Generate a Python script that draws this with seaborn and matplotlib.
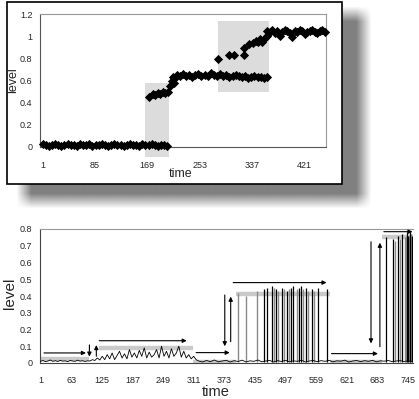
import numpy as np
import pandas as pd
import seaborn as sns
import matplotlib.pyplot as plt
from matplotlib.patches import Rectangle
from matplotlib.ticker import FuncFormatter

sns.set_style("white")
plt.rcParams['font.family'] = ['Liberation Sans Narrow', 'Liberation Sans', 'DejaVu Sans']

# ---- top panel: level readings ----
low_t = np.arange(1, 205, 5)
low_level = [0.03, 0.02, 0.01, 0.02, 0.03, 0.02, 0.01, 0.02, 0.03, 0.02, 0.02,
             0.01, 0.03, 0.02, 0.02, 0.03, 0.01, 0.02, 0.02, 0.03, 0.02, 0.01,
             0.02, 0.03, 0.02, 0.02, 0.01, 0.02, 0.03, 0.02, 0.02, 0.01, 0.03,
             0.02, 0.02, 0.03, 0.02, 0.01, 0.02, 0.02, 0.01]
step_t = [172, 178, 182, 186, 190, 194, 198, 202, 206, 208, 210, 212, 214]
step_level = [0.45, 0.48, 0.47, 0.49, 0.48, 0.50, 0.49, 0.50, 0.55, 0.60, 0.63, 0.58, 0.62]
mid_t = np.arange(216, 362, 5)
mid_level = [0.65, 0.64, 0.66, 0.64, 0.65, 0.63, 0.65, 0.66, 0.64, 0.65, 0.64,
             0.67, 0.65, 0.64, 0.66, 0.64, 0.65, 0.63, 0.64, 0.65, 0.64, 0.63,
             0.64, 0.62, 0.63, 0.64, 0.63, 0.63, 0.62, 0.63]
rise_t = [283, 300, 309, 325, 325, 333, 338, 343, 346, 350, 354, 358, 361]
rise_level = [0.79, 0.83, 0.83, 0.83, 0.89, 0.93, 0.94, 0.96, 0.95, 0.97, 0.95, 0.98, 1.00]
high_t = np.arange(362, 456, 4)
high_level = [1.05, 1.04, 1.06, 1.03, 1.05, 1.00, 1.04, 1.06, 1.05, 1.03, 0.99, 1.05,
              1.04, 1.06, 1.05, 1.02, 1.04, 1.05, 1.06, 1.04, 1.03, 1.05, 1.06, 1.04]

# shaded windows (time from, time to, level from, level to)
win_t0 = [166, 282]
win_t1 = [204, 364]
win_y0 = [-0.09, 0.50]
win_y1 = [0.58, 1.14]

top = pd.DataFrame({
    'time': np.concatenate([low_t, step_t, mid_t, rise_t, high_t]),
    'level': np.concatenate([low_level, step_level, mid_level, rise_level, high_level]),
})

# ---- bottom panel ----
a_t = np.arange(1, 100, 5)
a_level = [0.010, 0.015, 0.008, 0.012, 0.018, 0.010, 0.014, 0.009, 0.016, 0.011,
           0.013, 0.008, 0.015, 0.012, 0.010, 0.017, 0.011, 0.014, 0.009, 0.013]
b_t = np.arange(101, 320, 5)
b_level = [0.012, 0.020, 0.015, 0.030, 0.018, 0.040, 0.020, 0.050, 0.025, 0.060,
           0.020, 0.045, 0.070, 0.030, 0.055, 0.025, 0.080, 0.035, 0.060, 0.030,
           0.075, 0.040, 0.090, 0.030, 0.065, 0.035, 0.050, 0.080, 0.030, 0.100,
           0.040, 0.070, 0.030, 0.085, 0.040, 0.060, 0.100, 0.035, 0.070, 0.030,
           0.050, 0.025, 0.040, 0.020]
c_t = np.arange(321, 760, 8)
c_level = [0.012, 0.006, 0.015, 0.008, 0.018, 0.007, 0.012, 0.016, 0.006, 0.014,
           0.009, 0.017, 0.006, 0.013, 0.010, 0.018, 0.007, 0.012, 0.015, 0.006,
           0.014, 0.009, 0.016, 0.007, 0.013, 0.010, 0.017, 0.006, 0.012, 0.015,
           0.008, 0.014, 0.010, 0.016, 0.007, 0.013, 0.011, 0.017, 0.006, 0.012,
           0.015, 0.008, 0.014, 0.010, 0.016, 0.007, 0.013, 0.011, 0.015, 0.008,
           0.012, 0.014, 0.009, 0.013, 0.010]

bottom = pd.DataFrame({
    'time': np.concatenate([a_t, b_t, c_t]),
    'level': np.concatenate([a_level, b_level, c_level]),
})

spike_t = [453, 459, 469, 477, 489, 499, 509, 513, 525, 529, 539, 551, 563, 580,
           700, 714, 724, 733, 742, 744, 749, 753]
spike_h = [0.44, 0.45, 0.46, 0.44, 0.45, 0.43, 0.45, 0.46, 0.45, 0.46, 0.45, 0.44, 0.45, 0.44,
           0.75, 0.74, 0.76, 0.77, 0.78, 0.76, 0.78, 0.76]
gspike_t = [400, 416, 440, 473, 481, 493, 503, 521, 533, 543, 555,
            719, 729, 738, 740, 746, 748, 751]
gspike_h = [0.42, 0.40, 0.43, 0.45, 0.43, 0.44, 0.44, 0.44, 0.44, 0.43, 0.43,
            0.73, 0.74, 0.75, 0.76, 0.76, 0.77, 0.77]

# regime levels (grey bands)
band_t0 = [1, 120, 310, 396, 588, 692]
band_t1 = [100, 310, 396, 588, 692, 755]
band_level = [0.025, 0.088, 0.008, 0.41, 0.008, 0.755]

# arrows (from time, from level, to time, to level)
arr_t0 = [8, 100, 114, 120, 316, 374, 386, 391, 590, 670, 688, 696]
arr_y0 = [0.060, 0.108, 0.040, 0.133, 0.062, 0.406, 0.127, 0.480, 0.056, 0.724, 0.097, 0.784]
arr_t1 = [93, 100, 114, 297, 384, 374, 386, 580, 684, 670, 688, 754]
arr_y1 = [0.060, 0.038, 0.107, 0.133, 0.062, 0.100, 0.396, 0.480, 0.056, 0.117, 0.718, 0.784]

fig = plt.figure(figsize=(4.19, 3.99), dpi=100)

# background: frame around top panel with a soft drop shadow
bg = fig.add_axes([0, 0, 1, 1], zorder=-1)
yy, xx = np.mgrid[0:399, 0:419]
shade = ((xx >= 24) & (xx <= 362) & (yy >= 14) & (yy <= 200)).astype(float)
k = np.ones(15) / 15
shade = np.apply_along_axis(lambda r: np.convolve(r, k, mode='same'), 1, shade)
shade = np.apply_along_axis(lambda c: np.convolve(c, k, mode='same'), 0, shade)
bg.imshow(1 - 0.5 * shade, cmap='gray', vmin=0, vmax=1, extent=(0, 419, 399, 0),
          interpolation='bilinear', aspect='auto')
bg.add_patch(Rectangle((7, 2), 335, 182, facecolor='white', edgecolor='black', lw=1.2))
bg.set_xlim(0, 419)
bg.set_ylim(399, 0)
bg.axis('off')

# top chart
ax1 = fig.add_axes([40/419, 252/399, 286/419, 133/399])
ax1.patch.set_alpha(0)
for t0, t1, y0, y1 in zip(win_t0, win_t1, win_y0, win_y1):
    ax1.add_patch(Rectangle((t0, y0), t1 - t0, y1 - y0, facecolor='#dcdcdc',
                            edgecolor='none', clip_on=False, zorder=1))
sns.scatterplot(data=top, x='time', y='level', marker='D', s=22, color='black',
                linewidth=0, ax=ax1, clip_on=False, zorder=3)
ax1.set_xlim(-3.3, 456)
ax1.set_ylim(0, 1.2)
ax1.set_xticks([1, 85, 169, 253, 337, 421])
ax1.set_yticks([0, 0.2, 0.4, 0.6, 0.8, 1.0, 1.2])
ax1.yaxis.set_major_formatter(FuncFormatter(lambda v, p: f'{v:g}'))
ax1.tick_params(axis='x', direction='inout', length=3, pad=8.5, labelsize=6.5, color='#555')
ax1.tick_params(axis='y', direction='out', length=2.5, pad=3, labelsize=6.5, color='#555')
for s in ax1.spines.values():
    s.set_color('#999')
    s.set_linewidth(0.8)
ax1.spines['left'].set_color('#555')
ax1.spines['bottom'].set_color('#555')
ax1.set_xlabel('time', fontsize=9)
ax1.set_ylabel('level', fontsize=9)
ax1.xaxis.set_label_coords(0.49, -0.155)
ax1.yaxis.set_label_coords(-0.072, 0.5)

# bottom chart
ax2 = fig.add_axes([40/419, 36/399, 373/419, 134/399])
ax2.patch.set_alpha(0)
ax2.hlines(band_level, band_t0, band_t1, color='#cacaca', lw=3.2, zorder=1)
ax2.vlines(gspike_t, 0.005, gspike_h, color='#8a8a8a', lw=1.0, zorder=2)
ax2.vlines(spike_t, 0.005, spike_h, color='black', lw=0.9, zorder=3)
sns.lineplot(data=bottom, x='time', y='level', color='black', lw=0.6, ax=ax2, zorder=3)
for t0, y0, t1, y1 in zip(arr_t0, arr_y0, arr_t1, arr_y1):
    ax2.annotate('', xy=(t1, y1), xytext=(t0, y0),
                 arrowprops=dict(arrowstyle='-|>', color='black', lw=0.8,
                                 mutation_scale=6, shrinkA=0, shrinkB=0), zorder=4)
ax2.set_xlim(0, 755)
ax2.set_ylim(0, 0.8)
ax2.set_xticks([1, 63, 125, 187, 249, 311, 373, 435, 497, 559, 621, 683, 745])
ax2.set_yticks([0, 0.1, 0.2, 0.3, 0.4, 0.5, 0.6, 0.7, 0.8])
ax2.yaxis.set_major_formatter(FuncFormatter(lambda v, p: f'{v:g}'))
ax2.tick_params(axis='x', length=0, pad=9.5, labelsize=6.5)
ax2.tick_params(axis='y', direction='out', length=2.5, pad=3, labelsize=6.5, color='#555')
ax2.spines['right'].set_visible(False)
ax2.spines['top'].set_color('#999')
ax2.spines['left'].set_color('#444')
ax2.spines['bottom'].set_color('#444')
for s in ax2.spines.values():
    s.set_linewidth(0.8)
ax2.set_xlabel('time', fontsize=10.5)
ax2.set_ylabel('level', fontsize=11)
ax2.xaxis.set_label_coords(0.47, -0.165)
ax2.yaxis.set_label_coords(-0.062, 0.52)

fig.savefig('out.png', dpi=100)
